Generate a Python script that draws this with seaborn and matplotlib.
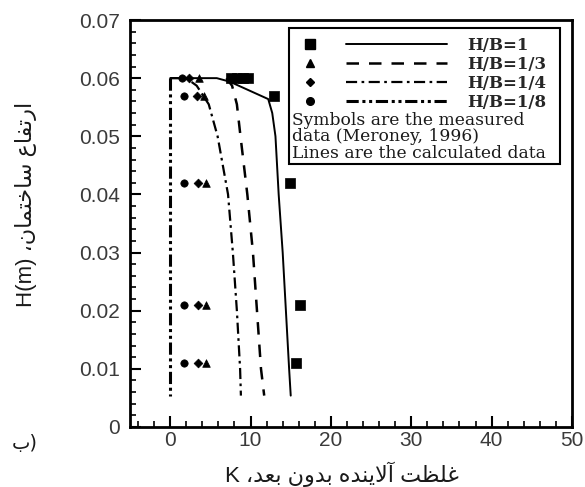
import matplotlib
matplotlib.use("Agg")
import matplotlib.pyplot as plt
import seaborn as sns
from matplotlib.lines import Line2D
from matplotlib.patches import Rectangle
from matplotlib.legend_handler import HandlerBase
from matplotlib.ticker import MultipleLocator, FuncFormatter

# ---------------- data ----------------
# calculated profiles (lines)
k_line_1 = [0.0, 5.8, 7.4, 12.2, 12.7, 13.1, 13.5, 14.0, 14.4, 14.8, 15.0]
h_line_1 = [0.060, 0.060, 0.0594, 0.0564, 0.054, 0.050, 0.040, 0.030, 0.020, 0.010, 0.0054]
k_line_3 = [7.0, 7.7, 8.3, 8.75, 9.6, 10.3, 10.8, 11.3, 11.7]
h_line_3 = [0.060, 0.0587, 0.0555, 0.050, 0.040, 0.030, 0.020, 0.010, 0.0054]
k_line_4 = [0.0, 2.0, 3.3, 4.8, 5.9, 7.2, 7.8, 8.3, 8.7, 8.8]
h_line_4 = [0.060, 0.060, 0.0587, 0.0555, 0.050, 0.040, 0.030, 0.020, 0.010, 0.0054]
k_line_8 = [0.0, 0.0]
h_line_8 = [0.060, 0.0054]

# measured data (symbols)
k_meas_1 = [7.6, 8.3, 9.0, 9.7, 12.9, 14.9, 16.2, 15.7]
h_meas_1 = [0.060, 0.060, 0.060, 0.060, 0.057, 0.042, 0.021, 0.011]
h_meas = [0.060, 0.057, 0.042, 0.021, 0.011]
k_meas_3 = [3.6, 4.2, 4.4, 4.4, 4.4]
k_meas_4 = [2.4, 3.3, 3.4, 3.4, 3.4]
k_meas_8 = [1.5, 1.7, 1.7, 1.7, 1.7]

series_labels = ["H/B=1", "H/B=1/3", "H/B=1/4", "H/B=1/8"]
note_lines = ["Symbols are the measured", "data (Meroney, 1996)", "Lines are the calculated data"]
x_ticks = [0, 10, 20, 30, 40, 50]

# Persian text in visual order (presentation forms)
def vis(codes):
    return "".join(chr(c) for c in reversed(codes))

w_ertefa = [0xFE8D, 0xFEAD, 0xFE97, 0xFED4, 0xFE8E, 0xFEC9]
w_sakhteman = [0xFEB3, 0xFE8E, 0xFEA7, 0xFE98, 0xFEE4, 0xFE8E, 0xFEE5]
w_ghelzat = [0xFECF, 0xFEE0, 0xFEC8, 0xFE96]
w_alayande = [0xFE81, 0xFEFB, 0xFEF3, 0xFEE8, 0xFEAA, 0xFEE9]
w_bedoon = [0xFE91, 0xFEAA, 0xFEED, 0xFEE5]
w_bod = [0xFE91, 0xFECC, 0xFEAA]
comma = "\u060C"

ylabel_text = "H(m) " + comma + vis(w_sakhteman) + " " + vis(w_ertefa)
xlabel_text = "K " + comma + vis(w_bod) + " " + vis(w_bedoon) + " " + vis(w_alayande) + " " + vis(w_ghelzat)
panel_text = chr(0xFE8F) + ")"

# ---------------- figure ----------------
sns.set_theme(style="ticks")
plt.rcParams["font.family"] = ["Liberation Sans", "DejaVu Sans"]

fig = plt.figure(figsize=(5.85, 4.87), dpi=100)
ax = fig.add_axes([130 / 585, 1 - 427 / 487, 442 / 585, 407 / 487])

line_kw = dict(sort=False, estimator=None, ax=ax, color="black", legend=False)
sns.lineplot(x=k_line_1, y=h_line_1, lw=1.4, **line_kw)
l1 = ax.lines[-1]
sns.lineplot(x=k_line_3, y=h_line_3, lw=1.8, **line_kw)
l3 = ax.lines[-1]
l3.set_dashes([5, 4])
sns.lineplot(x=k_line_4, y=h_line_4, lw=1.6, **line_kw)
l4 = ax.lines[-1]
l4.set_dashes([5, 2, 1.2, 2])
sns.lineplot(x=k_line_8, y=h_line_8, lw=2.2, **line_kw)
l8 = ax.lines[-1]
l8.set_dashes([4, 1.2, 1, 1.2, 1, 1.2])

sc_kw = dict(ax=ax, color="black", edgecolor="black", linewidth=0.5, legend=False, zorder=5)
sns.scatterplot(x=k_meas_1, y=h_meas_1, marker="s", s=42, **sc_kw)
sns.scatterplot(x=k_meas_3, y=h_meas, marker="^", s=30, **sc_kw)
sns.scatterplot(x=k_meas_4, y=h_meas, marker="D", s=20, **sc_kw)
sns.scatterplot(x=k_meas_8, y=h_meas, marker="o", s=28, **sc_kw)

ax.set_xlim(-5, 50)
ax.set_ylim(0, 0.07)
ax.set_xticks(x_ticks)
ax.xaxis.set_minor_locator(MultipleLocator(2))
ax.yaxis.set_major_locator(MultipleLocator(0.01))
ax.yaxis.set_minor_locator(MultipleLocator(0.002))
ax.yaxis.set_major_formatter(FuncFormatter(lambda v, p: "0" if abs(v) < 1e-9 else f"{v:.2f}"))

for s in ax.spines.values():
    s.set_linewidth(2.0)
    s.set_color("black")
ax.tick_params(which="both", direction="in", top=False, right=False, color="black")
ax.tick_params(which="major", length=8, width=1.5)
ax.tick_params(which="minor", length=4, width=1.2)
ax.tick_params(axis="both", which="major", labelsize=15, labelcolor="#3a3a3a")
ax.tick_params(axis="y", which="major", pad=7)
ax.tick_params(axis="x", which="major", pad=3)

ax.set_ylabel(ylabel_text, fontsize=16, color="#1a1a1a")
ax.yaxis.set_label_coords(-0.21, 0.548)
ax.set_xlabel(xlabel_text, fontsize=16, color="#1a1a1a")
ax.xaxis.set_label_coords(0.48, -0.085)

fig.text(25 / 585, 1 - 443 / 487, panel_text, fontsize=14, ha="center", va="center",
         family=["DejaVu Sans"], color="#1a1a1a")

# ---------------- legend ----------------
class MarkerLineHandler(HandlerBase):
    def create_artists(self, legend, orig_handle, xdescent, ydescent, width, height, fontsize, trans):
        mk, ln = orig_handle
        y = height / 2 - ydescent
        m = Line2D([-xdescent + 0.07 * width], [y], marker=mk.get_marker(),
                   markersize=mk.get_markersize(), color="black", ls="none")
        l = Line2D([-xdescent + 0.31 * width, -xdescent + width], [y, y], color="black",
                   lw=ln.get_linewidth())
        l.set_linestyle(ln.get_linestyle())
        if ln.get_linestyle() != "-":
            l.set_dashes(ln._unscaled_dash_pattern[1] if ln._unscaled_dash_pattern[1] else None)
        m.set_transform(trans)
        l.set_transform(trans)
        return [m, l]

mk_handles = [Line2D([], [], marker=m, ls="none", markersize=ms)
              for m, ms in zip(["s", "^", "D", "o"], [6.5, 5.5, 4.5, 5.5])]
handles = list(zip(mk_handles, [l1, l3, l4, l8]))
leg = ax.legend(handles, series_labels, handler_map={tuple: MarkerLineHandler()},
                loc="upper left", bbox_to_anchor=(0.385, 0.958), frameon=False,
                prop=dict(family="DejaVu Serif", weight="bold", size=12),
                handlelength=8.8, handletextpad=1.2, labelspacing=0.12,
                borderpad=0, borderaxespad=0)

ax.text(0.367, 0.775, "\n".join(note_lines), transform=ax.transAxes, ha="left", va="top",
        family="DejaVu Serif", fontsize=12.3, linespacing=0.97, color="#1a1a1a")
ax.add_patch(Rectangle((0.360, 0.646), 0.613, 0.334, transform=ax.transAxes,
                       fill=False, ec="black", lw=1.5, zorder=6))

fig.savefig("out.png", dpi=100)
